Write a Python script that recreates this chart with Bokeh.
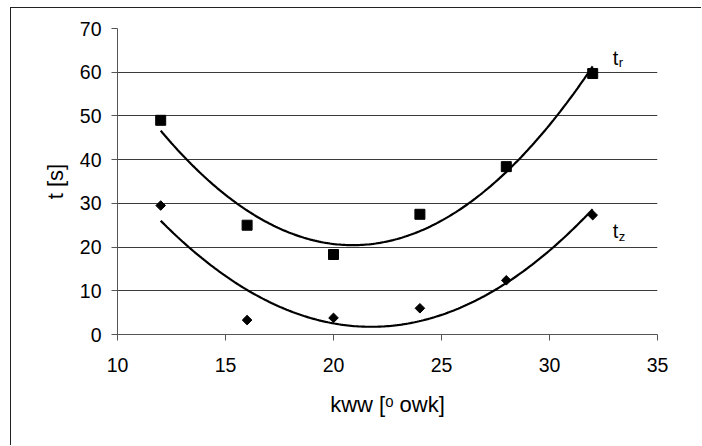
import numpy as np
from bokeh.plotting import figure
from bokeh.models import Range1d, FixedTicker
from bokeh.embed import file_html
from bokeh.resources import INLINE
from bokeh.core.properties import value

# data
kww = [12, 16, 20, 24, 28, 32]
t_r = [49.0, 25.0, 18.3, 27.5, 38.4, 59.7]
t_z = [29.5, 3.3, 3.8, 6.0, 12.4, 27.3]
x_ticks = [10, 15, 20, 25, 30, 35]
y_ticks = [0, 10, 20, 30, 40, 50, 60, 70]
series_names = ["t", "t"]
series_subs = ["r", "z"]

FONT = "Liberation Sans"

p = figure(width=691, height=438, output_backend="svg", toolbar_location=None,
           x_range=Range1d(10, 35), y_range=Range1d(0, 70),
           min_border_left=106, min_border_right=45,
           min_border_top=20, min_border_bottom=112)
p.styles = {"border-top": "1px solid #222", "border-left": "1px solid #222",
            "margin-left": "10px", "margin-top": "7px"}
p.outline_line_color = None
p.background_fill_color = "white"

p.xgrid.grid_line_color = None
p.ygrid.grid_line_color = "#3a3a3a"
p.ygrid.grid_line_width = 1

for ax in (p.xaxis[0], p.yaxis[0]):
    ax.axis_line_color = "#555555"
    ax.major_tick_line_color = "#555555"
    ax.minor_tick_line_color = None
    ax.major_tick_in = 0
    ax.major_tick_out = 6
    ax.major_label_text_font = FONT
    ax.major_label_text_font_size = "19.5px"
    ax.major_label_text_color = "black"
    ax.axis_label_text_font = FONT
    ax.axis_label_text_font_size = "22px"
    ax.axis_label_text_font_style = "normal"
    ax.axis_label_text_color = "black"

p.xaxis.ticker = FixedTicker(ticks=x_ticks)
p.yaxis.ticker = FixedTicker(ticks=y_ticks)
p.xaxis.major_label_standoff = 17
p.yaxis.major_label_standoff = 10
p.xaxis.axis_label = "kww [\u1d52 owk]"
p.yaxis.axis_label = "t [s]"
p.xaxis.axis_label_standoff = 17
p.yaxis.axis_label_standoff = 9

# quadratic trend lines (least-squares fit, like the spreadsheet trendline)
xs = np.linspace(min(kww), max(kww), 200)
for ys in (t_r, t_z):
    c = np.polyfit(kww, ys, 2)
    p.line(xs, np.polyval(c, xs), line_color="black", line_width=2.2)

p.scatter(kww, t_r, marker="square", size=10, fill_color="black", line_color="black")
p.scatter(kww, t_z, marker="square", size=6.8, angle=np.pi / 4,
          fill_color="black", line_color="black")

# series labels next to the last points
for ys, name, sub, dy in ((t_r, series_names[0], series_subs[0], -16),
                          (t_z, series_names[1], series_subs[1], 16)):
    p.text(x=[kww[-1]], y=[ys[-1]], text=[name], x_offset=20, y_offset=dy,
           text_font=value(FONT), text_font_size="20px", text_color="black",
           text_baseline="alphabetic", text_align="left")
    p.text(x=[kww[-1]], y=[ys[-1]], text=[sub], x_offset=26, y_offset=dy + 5,
           text_font=value(FONT), text_font_size="13px", text_color="black",
           text_baseline="alphabetic", text_align="left")

open("out.html", "w").write(file_html(p, INLINE))
